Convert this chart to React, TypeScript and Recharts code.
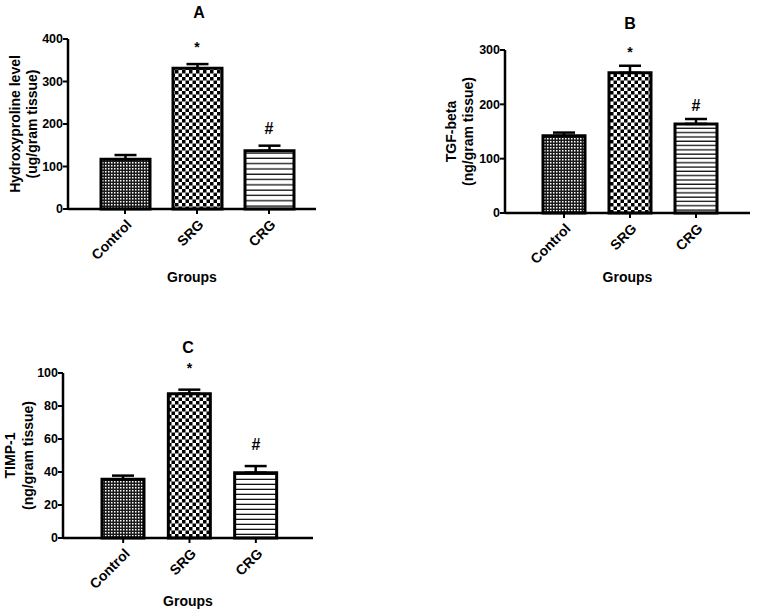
import React from 'react';
import { ComposedChart, Bar, Line, Cell, XAxis, YAxis, ErrorBar } from 'recharts';

const groups = ['Control', 'SRG', 'CRG'];
const marks = ['', '*', '#'];

// A: hydroxyproline (ug/gram tissue)
const hydroxyproline = [117, 331, 137];
const hydroxyprolineSem = [10, 10, 12];

// B: TGF-beta (ng/gram tissue)
const tgfBeta = [142, 258, 164];
const tgfBetaSem = [6, 13, 9];

// C: TIMP-1 (ng/gram tissue)
const timp1 = [35.6, 87.5, 39.6];
const timp1Sem = [2.2, 2.4, 4];

const FONT = '"Liberation Sans", Arial, sans-serif';

const buildRows = (values: number[], sem: number[]) =>
  groups.map((g, i) => ({
    group: g,
    value: values[i],
    err: [0, sem[i]],
    top: values[i] + sem[i],
    mark: marks[i],
  }));

const Patterns = ({ id, stripeGap }: { id: string; stripeGap: number }) => (
  <defs>
    <pattern id={`${id}-fine`} width="3" height="3" patternUnits="userSpaceOnUse">
      <rect width="3" height="3" fill="#1a1a1a" />
      <rect width="1.5" height="1.5" fill="#fff" />
    </pattern>
    <pattern id={`${id}-check`} width="7" height="7" patternUnits="userSpaceOnUse">
      <rect width="7" height="7" fill="#fff" />
      <rect width="3.5" height="3.5" fill="#000" />
      <rect x="3.5" y="3.5" width="3.5" height="3.5" fill="#000" />
    </pattern>
    <pattern id={`${id}-stripe`} width="6" height={stripeGap} patternUnits="userSpaceOnUse">
      <rect width="6" height={stripeGap} fill="#fff" />
      <rect y={stripeGap - 1.3} width="6" height="1.3" fill="#111" />
    </pattern>
  </defs>
);

const GroupTick = (props: any) => {
  const { x, y, payload } = props;
  const ax = x + 4;
  const ay = y + 6;
  return (
    <text
      x={ax}
      y={ay}
      transform={`rotate(-45, ${ax}, ${ay})`}
      textAnchor="end"
      dominantBaseline="central"
      fontFamily={FONT}
      fontSize={14}
      fontWeight="bold"
      fill="#000"
    >
      {payload.value}
    </text>
  );
};

const YTitle = (props: any) => {
  const { viewBox, lines, xs } = props;
  const cy = viewBox.y + viewBox.height / 2;
  return (
    <g>
      {lines.map((t: string, i: number) => (
        <text
          key={t}
          x={xs[i]}
          y={cy}
          transform={`rotate(-90, ${xs[i]}, ${cy})`}
          textAnchor="middle"
          dominantBaseline="central"
          fontFamily={FONT}
          fontSize={14}
          fontWeight="bold"
          fill="#000"
        >
          {t}
        </text>
      ))}
    </g>
  );
};

const XTitle = (props: any) => {
  const { viewBox, dy } = props;
  return (
    <text
      x={viewBox.x + viewBox.width / 2}
      y={viewBox.y + dy}
      textAnchor="middle"
      dominantBaseline="central"
      fontFamily={FONT}
      fontSize={14}
      fontWeight="bold"
      fill="#000"
    >
      Groups
    </text>
  );
};

const MarkDot = (props: any) => {
  const { cx, cy, payload, lift } = props;
  if (!payload.mark) return <g />;
  return (
    <text
      x={cx}
      y={cy - lift}
      textAnchor="middle"
      dominantBaseline="central"
      fontFamily={FONT}
      fontSize={payload.mark === '#' ? 16 : 14}
      fontWeight="bold"
      fill="#000"
    >
      {payload.mark}
    </text>
  );
};

interface PanelProps {
  id: string;
  title: string;
  left: number;
  top: number;
  width: number;
  height: number;
  plotTop: number;
  plotRight: number;
  axisWidth: number;
  axisHeight: number;
  rows: any[];
  max: number;
  ticks: number[];
  yLines: string[];
  yXs: number[];
  barSize: number;
  pad: { left: number; right: number };
  stripeGap: number;
  groupsDy: number;
  lift: number;
  titleX: number;
  titleY: number;
}

const Panel = (p: PanelProps) => {
  const fills = [`url(#${p.id}-fine)`, `url(#${p.id}-check)`, `url(#${p.id}-stripe)`];
  return (
    <>
      <div
        style={{
          position: 'absolute',
          left: p.titleX,
          top: p.titleY,
          transform: 'translate(-50%, -50%)',
          fontFamily: FONT,
          fontWeight: 'bold',
          fontSize: 16,
          lineHeight: 1,
        }}
      >
        {p.title}
      </div>
      <div style={{ position: 'absolute', left: p.left, top: p.top }}>
        <ComposedChart
          width={p.width}
          height={p.height}
          data={p.rows}
          margin={{ top: p.plotTop, right: p.plotRight, bottom: 0, left: 0 }}
        >
          <Patterns id={p.id} stripeGap={p.stripeGap} />
          <XAxis
            dataKey="group"
            height={p.axisHeight}
            padding={p.pad}
            axisLine={{ stroke: '#000', strokeWidth: 2.5 }}
            tickLine={{ stroke: '#000', strokeWidth: 2 }}
            tickSize={5}
            tick={<GroupTick />}
            interval={0}
            label={<XTitle dy={p.groupsDy} />}
          />
          <YAxis
            width={p.axisWidth}
            domain={[0, p.max]}
            ticks={p.ticks}
            interval={0}
            axisLine={{ stroke: '#000', strokeWidth: 2.5 }}
            tickLine={{ stroke: '#000', strokeWidth: 2 }}
            tickSize={5}
            tickMargin={0}
            tick={{ fill: '#000', fontSize: 12.5, fontWeight: 'bold', fontFamily: FONT }}
            label={<YTitle lines={p.yLines} xs={p.yXs} />}
          />
          <Bar dataKey="value" barSize={p.barSize} stroke="#000" strokeWidth={3} isAnimationActive={false}>
            {p.rows.map((r, i) => (
              <Cell key={r.group} fill={fills[i]} />
            ))}
            <ErrorBar dataKey="err" width={11} stroke="#000" strokeWidth={2.5} />
          </Bar>
          <Line
            dataKey="top"
            stroke="none"
            isAnimationActive={false}
            activeDot={false}
            dot={(d: any) => <MarkDot key={`m-${d.index}`} {...d} lift={p.lift} />}
          />
        </ComposedChart>
      </div>
    </>
  );
};

export default function App() {
  return (
    <div style={{ position: 'absolute', left: 0, top: 0, width: 758, height: 609, background: '#fff' }}>
      <Panel
        id="hyp"
        title="A"
        left={0}
        top={0}
        width={330}
        height={295}
        plotTop={39}
        plotRight={14}
        axisWidth={68}
        axisHeight={86}
        rows={buildRows(hydroxyproline, hydroxyprolineSem)}
        max={400}
        ticks={[0, 100, 200, 300, 400]}
        yLines={['Hydroxyproline level', '(ug/gram tissue)']}
        yXs={[15, 32]}
        barSize={49}
        pad={{ left: 21, right: 11 }}
        stripeGap={5.3}
        groupsDy={68}
        lift={17}
        titleX={199}
        titleY={13}
      />
      <Panel
        id="tgf"
        title="B"
        left={400}
        top={0}
        width={358}
        height={295}
        plotTop={50}
        plotRight={8}
        axisWidth={105}
        axisHeight={82}
        rows={buildRows(tgfBeta, tgfBetaSem)}
        max={300}
        ticks={[0, 100, 200, 300]}
        yLines={['TGF-beta', '(ng/gram tissue)']}
        yXs={[51, 68]}
        barSize={42}
        pad={{ left: 26, right: 21 }}
        stripeGap={4.3}
        groupsDy={64}
        lift={14}
        titleX={630}
        titleY={24}
      />
      <Panel
        id="timp"
        title="C"
        left={0}
        top={310}
        width={330}
        height={299}
        plotTop={63}
        plotRight={17}
        axisWidth={63}
        axisHeight={71}
        rows={buildRows(timp1, timp1Sem)}
        max={100}
        ticks={[0, 20, 40, 60, 80, 100]}
        yLines={['TIMP-1', '(ng/gram tissue)']}
        yXs={[10, 28]}
        barSize={42}
        pad={{ left: 27, right: 24 }}
        stripeGap={5}
        groupsDy={63}
        lift={22}
        titleX={188}
        titleY={348}
      />
    </div>
  );
}
